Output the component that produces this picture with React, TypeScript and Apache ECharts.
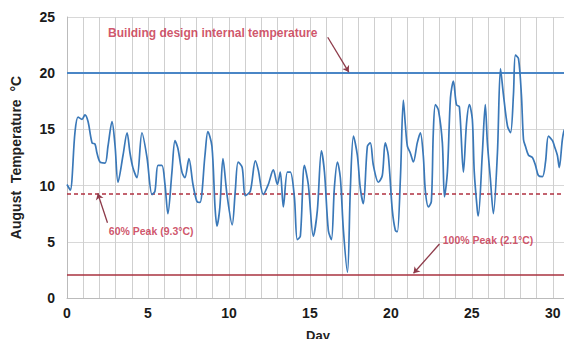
import React, { useEffect, useRef } from "react";
import * as echarts from "echarts";

// Day of month (fractional) and temperature readings (°C)
const days: number[] = [
  0, 0.2, 0.49, 0.68, 0.93, 1.11, 1.3, 1.55, 1.73, 1.85, 2.04, 2.35, 2.53, 2.78, 2.97,
  3.15, 3.46, 3.71, 3.89, 4.07, 4.32, 4.63, 4.94, 5.25, 5.43, 5.62, 5.86, 6.05, 6.23,
  6.48, 6.67, 6.85, 7.1, 7.28, 7.53, 7.78, 8.02, 8.21, 8.52, 8.7, 8.95, 9.14, 9.26,
  9.44, 9.63, 9.88, 10.2, 10.39, 10.57, 10.82, 11.01, 11.32, 11.63, 11.81, 12.12,
  12.43, 12.74, 12.99, 13.17, 13.36, 13.61, 13.79, 14.04, 14.22, 14.41, 14.66, 14.9,
  15.21, 15.46, 15.71, 15.9, 16.14, 16.33, 16.51, 16.7, 16.88, 17.07, 17.32, 17.5,
  17.69, 17.93, 18.11, 18.3, 18.55, 18.73, 18.92, 19.23, 19.47, 19.65, 19.84, 20.09,
  20.28, 20.4, 20.59, 20.77, 20.9, 21.02, 21.2, 21.39, 21.63, 21.82, 22.0, 22.13,
  22.32, 22.5, 22.62, 22.75, 22.94, 23.18, 23.31, 23.49, 23.68, 23.86, 24.05, 24.23,
  24.48, 24.67, 24.85, 25.03, 25.15, 25.34, 25.4, 25.65, 25.83, 25.96, 26.14, 26.33,
  26.58, 26.77, 26.95, 27.2, 27.39, 27.57, 27.69, 27.88, 28.06, 28.19, 28.31, 28.5,
  28.74, 28.93, 29.11, 29.36, 29.55, 29.73, 29.98, 30.1, 30.28, 30.4, 30.59, 30.72,
  30.88, 31,
];
const temps: number[] = [
  10.1, 9.6, 14.7, 16.1, 15.9, 16.3, 15.7, 13.8, 13.7, 12.9, 12.1, 12.0, 13.5, 15.7, 13.5,
  10.3, 12.7, 14.7, 12.9, 11.6, 10.7, 14.7, 12.5, 9.2, 9.5, 11.8, 11.8, 10.1, 7.5,
  11.2, 14.0, 13.3, 11.2, 10.7, 12.4, 10.1, 8.6, 8.5, 12.7, 14.8, 13.5, 8.1, 6.4,
  8.1, 12.4, 9.2, 6.5, 9.5, 12.1, 11.6, 9.1, 9.5, 12.2, 11.4, 9.2,
  10.1, 11.4, 10.1, 11.2, 8.1, 11.2, 11.2, 9.0, 5.2, 5.5, 11.8, 10.1,
  5.5, 7.8, 13.1, 11.2, 6.0, 5.2, 9.8, 12.1, 10.7, 6.0, 2.3, 9.8,
  14.4, 12.7, 9.8, 8.4, 13.5, 13.8, 11.8, 10.3, 10.9, 13.8, 12.7, 7.8,
  6.0, 5.9, 10.7, 17.6, 15.3, 13.5, 12.9, 12.1, 13.8, 14.7, 12.7, 9.5,
  8.1, 8.6, 14.7, 17.2, 16.7, 13.8, 9.0, 11.2, 17.8, 19.3, 17.2, 17.0,
  11.2, 15.5, 17.2, 15.9, 11.2, 7.8, 7.3, 12.9, 17.2, 13.8, 10.7, 7.5,
  12.9, 20.4, 18.1, 15.3, 14.7, 18.1, 21.6, 21.3, 18.1, 14.1, 13.5, 12.7,
  12.5, 11.8, 10.9, 10.8, 12.1, 14.4, 14.0, 13.5, 12.7, 11.6, 14.1, 15.0,
  12.6, 10.2,
];

const designTemp = 20;
const peak60 = 9.3;
const peak100 = 2.1;

const xTicks: number[] = [0, 5, 10, 15, 20, 25, 30];
const yTicks: number[] = [0, 5, 10, 15, 20, 25];

const annoTexts: string[] = [
  "Building design internal temperature",
  "60% Peak (9.3°C)",
  "100% Peak (2.1°C)",
];
const annoTextPos: number[][] = [
  [9.0, 23.6],
  [5.2, 6.0],
  [26.0, 5.2],
];
const annoFontSizes: number[] = [12, 10.5, 10.5];
const annoArrows: number[][][] = [
  [[16.1, 23.2], [17.4, 20.1]],
  [[2.5, 6.7], [1.9, 9.3]],
  [[23.0, 4.8], [21.4, 2.2]],
];

export default function App() {
  const ref = useRef<HTMLDivElement>(null);
  useEffect(() => {
    if (!ref.current) return;
    const chart = echarts.init(ref.current, undefined, { renderer: "svg" });
    const lineData = days.map((d, i) => [d, temps[i]]);
    const fontFamily = "'Liberation Sans', Arial, sans-serif";
    chart.setOption({
      animation: false,
      backgroundColor: "#ffffff",
      grid: { left: 67, right: 1, top: 17, bottom: 40, containLabel: false },
      xAxis: {
        type: "value",
        min: 0,
        max: 31,
        interval: 1,
        name: "Day",
        nameLocation: "middle",
        nameGap: 31,
        nameTextStyle: { fontWeight: "bold", fontSize: 13, color: "#222", fontFamily },
        axisLine: { show: true, lineStyle: { color: "#bbbbbb" } },
        axisTick: { show: false },
        axisLabel: {
          fontWeight: "bold",
          fontSize: 14,
          color: "#1a1a1a",
          fontFamily,
          margin: 8,
          formatter: (v: number) => (xTicks.includes(v) ? String(v) : ""),
        },
        splitLine: { show: true, lineStyle: { color: "#cfcfcf", width: 1 } },
      },
      yAxis: {
        type: "value",
        min: 0,
        max: 25,
        interval: 5,
        name: "August  Temperature  °C",
        nameLocation: "middle",
        nameGap: 44,
        nameRotate: 90,
        nameTextStyle: { fontWeight: "bold", fontSize: 14, color: "#222", fontFamily },
        axisLine: { show: true, lineStyle: { color: "#bbbbbb" } },
        axisTick: { show: false },
        axisLabel: {
          fontWeight: "bold",
          fontSize: 14,
          color: "#1a1a1a",
          fontFamily,
          margin: 12,
          formatter: (v: number) => (yTicks.includes(v) ? String(v) : ""),
        },
        splitLine: { show: true, lineStyle: { color: "#d8d8d8", width: 1 } },
      },
      series: [
        {
          type: "line",
          data: lineData,
          showSymbol: false,
          smooth: 0.3,
          lineStyle: { color: "#3a78b8", width: 1.7 },
          z: 5,
          markLine: {
            silent: true,
            symbol: "none",
            label: { show: false },
            data: [
              { yAxis: designTemp, lineStyle: { color: "#4a86c6", width: 2, type: "solid" } },
              { yAxis: peak60, lineStyle: { color: "#b03040", width: 1.5, type: [4, 3] } },
              { yAxis: peak100, lineStyle: { color: "#a8323f", width: 1.6, type: "solid" } },
            ],
          },
        },
        {
          type: "lines",
          coordinateSystem: "cartesian2d",
          z: 6,
          symbol: ["none", "arrow"],
          symbolSize: 6,
          lineStyle: { color: "#8e3b4a", width: 1.3, opacity: 1 },
          data: annoArrows.map((a) => ({ coords: a })),
        },
        {
          type: "scatter",
          symbolSize: 0,
          z: 7,
          data: annoTextPos.map((p, i) => ({
            value: p,
            name: annoTexts[i],
            label: { fontSize: annoFontSizes[i] },
          })),
          label: {
            show: true,
            position: "inside",
            formatter: (p: any) => p.name,
            color: "#c42a45",
            fontWeight: "bold",
            fontFamily,
          },
        },
      ],
    });
    return () => chart.dispose();
  }, []);
  return <div ref={ref} style={{ width: 572, height: 347, margin: -8 }} />;
}
